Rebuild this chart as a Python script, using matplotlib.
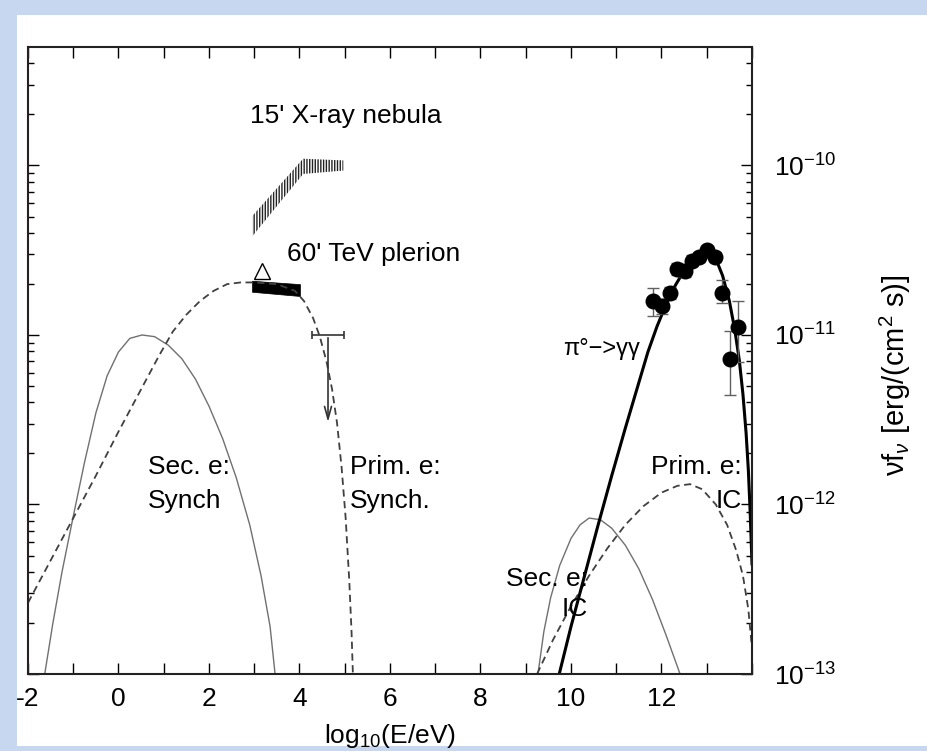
import matplotlib
matplotlib.use("Agg")
import numpy as np
import matplotlib.pyplot as plt
from matplotlib.patches import Rectangle
from matplotlib.ticker import MultipleLocator, FuncFormatter, FixedLocator, NullFormatter

plt.rcParams['font.family'] = ['Liberation Sans', 'DejaVu Sans']
plt.rcParams['mathtext.fontset'] = 'custom'
plt.rcParams['mathtext.rm'] = 'Liberation Sans'
plt.rcParams['mathtext.it'] = 'Liberation Sans:italic'
plt.rcParams['hatch.linewidth'] = 1.0

# ---- model curves: log10(E/eV) vs log10(nu f_nu) ----
sec_sync_x = [-1.63, -1.45, -1.25, -1.0, -0.75, -0.5, -0.25, 0.0, 0.25, 0.52, 0.8, 1.1,
              1.4, 1.7, 2.0, 2.3, 2.6, 2.9, 3.15, 3.35, 3.46]
sec_sync_y = [-13.0, -12.7, -12.4, -12.07, -11.75, -11.46, -11.24, -11.1, -11.02, -11.0,
              -11.01, -11.06, -11.14, -11.26, -11.42, -11.61, -11.84, -12.12, -12.42,
              -12.72, -13.0]

prim_sync_x = [-2.0, -1.5, -1.0, -0.5, 0.0, 0.5, 0.9, 1.2, 1.5, 1.8, 2.1, 2.4, 2.7, 3.0,
               3.5, 3.9, 4.1, 4.3, 4.45, 4.6, 4.72, 4.83, 4.93, 5.02, 5.1, 5.15, 5.18]
prim_sync_y = [-12.58, -12.33, -12.08, -11.83, -11.57, -11.32, -11.12, -10.98, -10.88,
               -10.80, -10.74, -10.70, -10.69, -10.69, -10.70, -10.74, -10.80, -10.90,
               -11.01, -11.16, -11.32, -11.52, -11.78, -12.08, -12.45, -12.75, -13.0]

sec_ic_x = [9.27, 9.4, 9.55, 9.75, 10.0, 10.2, 10.4, 10.65, 10.9, 11.2, 11.5, 11.8, 12.1, 12.41]
sec_ic_y = [-13.0, -12.75, -12.55, -12.36, -12.2, -12.12, -12.08, -12.09, -12.14, -12.24,
            -12.38, -12.56, -12.77, -13.0]

prim_ic_x = [9.25, 9.6, 10.0, 10.4, 10.8, 11.2, 11.6, 12.0, 12.35, 12.63, 12.9, 13.2, 13.45,
             13.65, 13.8, 13.92, 14.0]
prim_ic_y = [-13.0, -12.8, -12.6, -12.42, -12.26, -12.12, -12.01, -11.93, -11.89, -11.88,
             -11.91, -12.0, -12.12, -12.27, -12.42, -12.62, -12.85]

pion_x = [9.74, 10.0, 10.3, 10.6, 10.9, 11.2, 11.5, 11.7, 11.9, 12.1, 12.3, 12.5, 12.7, 12.9,
          13.05, 13.2, 13.35, 13.5, 13.62, 13.72, 13.8, 13.87, 13.92, 13.96, 14.0]
pion_y = [-13.0, -12.72, -12.42, -12.12, -11.83, -11.55, -11.28, -11.10, -10.95, -10.82,
          -10.71, -10.62, -10.56, -10.52, -10.51, -10.55, -10.65, -10.80, -10.97, -11.15,
          -11.35, -11.58, -11.80, -12.05, -12.35]

# ---- TeV measurements ----
tev_x = [11.81, 12.01, 12.19, 12.34, 12.52, 12.67, 12.83, 13.00, 13.18, 13.34, 13.51, 13.69]
tev_f = [1.58e-11, 1.48e-11, 1.78e-11, 2.45e-11, 2.40e-11, 2.75e-11, 2.88e-11, 3.16e-11,
         2.88e-11, 1.78e-11, 7.2e-12, 1.12e-11]
tev_err_lo = [0.29e-11, 0.15e-11, 0.15e-11, 0.2e-11, 0.2e-11, 0.2e-11, 0.2e-11, 0.2e-11,
              0.2e-11, 0.23e-11, 2.8e-12, 4.3e-12]
tev_err_hi = [0.32e-11, 0.15e-11, 0.15e-11, 0.2e-11, 0.2e-11, 0.2e-11, 0.2e-11, 0.2e-11,
              0.2e-11, 0.32e-11, 3.3e-12, 4.6e-12]

# 15' X-ray nebula band (log10 flux edges)
xray_x = [2.95, 4.08, 4.97]
xray_lo = [-10.42, -10.05, -10.03]
xray_hi = [-10.30, -9.96, -9.97]

# 60' TeV plerion bar (log10 flux edges)
plerion_x = [2.95, 4.01]
plerion_lo = [-10.745, -10.77]
plerion_hi = [-10.68, -10.70]

# single open-triangle point
tri_x, tri_f = 3.18, 2.4e-11

# upper limit
ul_x, ul_xerr, ul_f, ul_tip = 4.63, 0.355, 1.0e-11, 2.95e-12

x_labels = {-2: '-2', 0: '0', 2: '2', 4: '4', 6: '6', 8: '8', 10: '10', 12: '12'}
y_major = [1e-13, 1e-12, 1e-11, 1e-10]
y_major_labels = [r'$\mathregular{10^{-13}}$', r'$\mathregular{10^{-12}}$',
                  r'$\mathregular{10^{-11}}$', r'$\mathregular{10^{-10}}$']

W, H = 928, 751
fig = plt.figure(figsize=(W / 100, H / 100), dpi=100, facecolor='#c7d7ef')
fig.patches.append(Rectangle((17 / W, 5 / H), 1 - 17 / W, (746 - 15) / H,
                             transform=fig.transFigure, facecolor='white',
                             edgecolor='none', zorder=-10))

ax = fig.add_axes([28 / W, 1 - 674 / H, (752 - 28) / W, (674 - 47) / H])
ax.set_facecolor('white')
ax.set_yscale('log')
ax.set_xlim(-2, 14)
ax.set_ylim(1e-13, 5e-10)

p = lambda a: 10 ** np.asarray(a)

ax.plot(sec_sync_x, p(sec_sync_y), color='#707070', lw=1.0)
ax.plot(prim_sync_x, p(prim_sync_y), color='#404040', lw=1.3, dashes=(4, 2.5))
ax.plot(sec_ic_x, p(sec_ic_y), color='#707070', lw=1.0)
ax.plot(prim_ic_x, p(prim_ic_y), color='#404040', lw=1.3, dashes=(4, 2.5))
ax.plot(pion_x, p(pion_y), color='black', lw=2.2)

ax.errorbar(tev_x, tev_f, yerr=[tev_err_lo, tev_err_hi], fmt='o', color='black',
            ms=10.5, ecolor='#606060', elinewidth=1.0, capsize=4, capthick=1.0, zorder=5)

ax.fill_between(xray_x, p(xray_lo), p(xray_hi), facecolor='none', edgecolor='#222222',
                hatch='||||||', linewidth=0)
ax.fill_between(plerion_x, p(plerion_lo), p(plerion_hi), color='black', linewidth=0.5)
ax.plot([tri_x], [tri_f], marker='^', ms=11, mfc='white', mec='black', mew=1.0)

ax.errorbar([ul_x], [ul_f], xerr=[ul_xerr], fmt='none', ecolor='#333333',
            elinewidth=1.2, capsize=3, capthick=1.2)
ax.annotate('', xy=(ul_x, ul_tip), xytext=(ul_x, ul_f),
            arrowprops=dict(arrowstyle='->,head_length=0.9,head_width=0.25',
                            color='#333333', lw=1.2))

fs = 19
ax.text(2.91, p(-9.71), "15' X-ray nebula", fontsize=fs, ha='left', va='center')
ax.text(3.72, p(-10.52), "60' TeV plerion", fontsize=fs, ha='left', va='center')
ax.text(0.65, p(-11.88), "Sec. e:\nSynch", fontsize=fs, ha='left', va='center',
        linespacing=1.5)
ax.text(5.12, p(-11.88), "Prim. e:\nSynch.", fontsize=fs, ha='left', va='center',
        linespacing=1.5)
ax.text(13.78, p(-11.88), "Prim. e:\nIC", fontsize=fs, ha='right', va='center',
        linespacing=1.5, multialignment='right')
ax.text(10.38, p(-12.53), "Sec. e:\nIC", fontsize=fs, ha='right', va='center',
        linespacing=1.3, multialignment='right')
ax.text(9.82, p(-11.08), "π°−>γγ", fontsize=fs - 2, ha='left', va='center')

ax.xaxis.set_major_locator(MultipleLocator(1))
ax.xaxis.set_major_formatter(FuncFormatter(lambda v, pos: x_labels.get(int(round(v)), '')))
ax.yaxis.set_major_locator(FixedLocator(y_major))
ax.yaxis.set_major_formatter(FuncFormatter(
    lambda v, pos: y_major_labels[int(round(np.log10(v))) + 13]))
y_minor = [m * d for d in y_major for m in range(2, 10) if m * d < 5e-10]
ax.yaxis.set_minor_locator(FixedLocator(y_minor))
ax.yaxis.set_minor_formatter(NullFormatter())

ax.tick_params(which='both', direction='in', top=True, bottom=True, left=True, right=True,
               labelleft=False, labelright=True, labelsize=fs, width=1.0)
ax.tick_params(which='major', length=8)
ax.tick_params(which='minor', length=4)
ax.tick_params(axis='y', which='major', pad=16)
ax.tick_params(axis='x', which='major', pad=9)
for s in ax.spines.values():
    s.set_linewidth(1.5)
    s.set_color('#222222')

ax.set_xlabel('log$_{10}$(E/eV)', fontsize=fs, labelpad=8)
fig.text(895 / W, 1 - 375 / H, 'νf$_{ν}$ [erg/(cm$^2$ s)]', rotation=90,
         fontsize=21, ha='center', va='center')

fig.savefig('out.png', dpi=100, facecolor=fig.get_facecolor())
